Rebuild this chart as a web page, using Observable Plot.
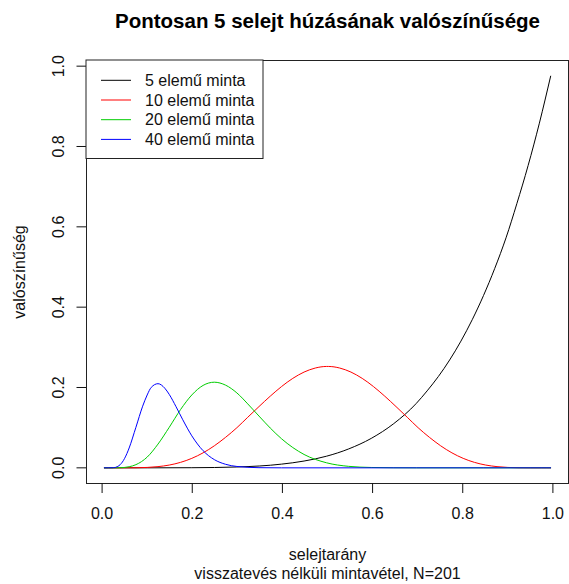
<!DOCTYPE html>
<html><head><meta charset="utf-8">
<script src="https://cdn.jsdelivr.net/npm/d3@7"></script>
<script src="https://cdn.jsdelivr.net/npm/@observablehq/plot@0.6"></script>
<style>
html,body{margin:0;padding:0;background:#fff;}
#chart{width:569px;height:584px;}
svg{font-family:"Liberation Sans",Arial,sans-serif;}
</style></head><body><div id="chart"></div>
<script>
const title = "Pontosan 5 selejt húzásának valószínűsége";
const xLabel = "selejtarány";
const subLabel = "visszatevés nélküli mintavétel, N=201";
const yLabel = "valószínűség";
const seriesNames = ["5 elemű minta", "10 elemű minta", "20 elemű minta", "40 elemű minta"];
const seriesColors = ["#000000", "#FF0000", "#00CD00", "#0000FF"];
const xTicks = [0, 0.2, 0.4, 0.6, 0.8, 1.0];
const yTicks = [0, 0.2, 0.4, 0.6, 0.8, 1.0];

// 5 elemű minta
const x5 = [0.005, 0.025, 0.100, 0.199, 0.299, 0.398, 0.448, 0.498, 0.547, 0.597, 0.647, 0.697, 0.721, 0.746, 0.771, 0.796, 0.821, 0.846, 0.871, 0.896, 0.920, 0.945, 0.970, 0.995];
const y5 = [0, 0, 0.0000, 0.0003, 0.0021, 0.0092, 0.0169, 0.0290, 0.0471, 0.0733, 0.1101, 0.1604, 0.1916, 0.2275, 0.2686, 0.3155, 0.3687, 0.4288, 0.4965, 0.5726, 0.6576, 0.7525, 0.8581, 0.9751];
// 10 elemű minta
const x10 = [0.005, 0.025, 0.050, 0.075, 0.100, 0.124, 0.149, 0.174, 0.199, 0.224, 0.249, 0.274, 0.299, 0.323, 0.348, 0.373, 0.398, 0.423, 0.448, 0.473, 0.498, 0.502, 0.527, 0.552, 0.577, 0.602, 0.627, 0.652, 0.677, 0.701, 0.726, 0.751, 0.776, 0.801, 0.826, 0.851, 0.876, 0.900, 0.925, 0.950, 0.975, 0.995];
const y10 = [0, 0, 0.0000, 0.0002, 0.0010, 0.0030, 0.0069, 0.0136, 0.0236, 0.0373, 0.0549, 0.0760, 0.0999, 0.1258, 0.1525, 0.1784, 0.2023, 0.2227, 0.2384, 0.2485, 0.2524, 0.2524, 0.2485, 0.2384, 0.2227, 0.2023, 0.1784, 0.1525, 0.1258, 0.0999, 0.0760, 0.0549, 0.0373, 0.0236, 0.0136, 0.0069, 0.0030, 0.0010, 0.0002, 0.0000, 0, 0];
// 20 elemű minta
const x20 = [0.005, 0.025, 0.040, 0.050, 0.060, 0.075, 0.100, 0.124, 0.149, 0.174, 0.199, 0.224, 0.249, 0.274, 0.299, 0.323, 0.348, 0.373, 0.398, 0.448, 0.498, 0.547, 0.597, 0.647, 0.697, 0.995];
const y20 = [0, 0, 0.0003, 0.0010, 0.0027, 0.0079, 0.0267, 0.0591, 0.1010, 0.1450, 0.1814, 0.2052, 0.2132, 0.2058, 0.1865, 0.1593, 0.1289, 0.0991, 0.0724, 0.0333, 0.0125, 0.0037, 0.0009, 0.0002, 0, 0];
// 40 elemű minta
const x40 = [0.005, 0.025, 0.030, 0.035, 0.040, 0.045, 0.050, 0.060, 0.075, 0.090, 0.100, 0.109, 0.124, 0.139, 0.149, 0.164, 0.179, 0.199, 0.224, 0.249, 0.274, 0.299, 0.348, 0.398, 0.995];
const y40 = [0, 0.0003, 0.0012, 0.0036, 0.0078, 0.0144, 0.0236, 0.0494, 0.1009, 0.1535, 0.1814, 0.2003, 0.2095, 0.1983, 0.1827, 0.1523, 0.1196, 0.0797, 0.0427, 0.0204, 0.0088, 0.0034, 0.0004, 0, 0];

const xs = [x5, x10, x20, x40];
const ys = [y5, y10, y20, y40];
const series = xs.map((xv, i) => xv.map((x, j) => ({x, y: ys[i][j], s: seriesNames[i]})));

// R-style 4% axis extension
const allX = xs.flat(), allY = ys.flat();
const [x0, x1] = d3.extent(allX), [y0, y1] = d3.extent(allY);
const xDomain = [x0 - 0.04 * (x1 - x0), x1 + 0.04 * (x1 - x0)];
const yDomain = [y0 - 0.04 * (y1 - y0), y1 + 0.04 * (y1 - y0)];

const ink = "#111";
const chart = Plot.plot({
  width: 569, height: 584,
  marginLeft: 86, marginRight: 1, marginTop: 60, marginBottom: 101,
  style: {fontFamily: '"Liberation Sans", Arial, sans-serif', fontSize: "16px", color: ink, background: "#fff"},
  x: {domain: xDomain},
  y: {domain: yDomain},
  marks: [
    ...series.map((d, i) => Plot.line(d, {x: "x", y: "y", stroke: seriesColors[i], strokeWidth: 1, curve: "monotone-x"})),
    Plot.frame({stroke: "#222", strokeWidth: 1}),
    Plot.axisX({ticks: xTicks, tickSize: 10, tickPadding: 14.5, tickFormat: d3.format(".1f"), label: null, fontSize: 16, stroke: ink, fill: ink}),
    Plot.axisY({ticks: yTicks, tickSize: 9.5, tickPadding: 13.5, tickRotate: -90, tickFormat: d3.format(".1f"), label: null, fontSize: 16, stroke: ink, fill: ink}),
    Plot.text([title], {text: d => d, frameAnchor: "top", dy: -32.5, lineAnchor: "bottom", textAnchor: "middle", fontWeight: "bold", fontSize: 20.5, fill: "#000"}),
    Plot.text([xLabel], {text: d => d, frameAnchor: "bottom", dy: 76, lineAnchor: "bottom", textAnchor: "middle", fontSize: 16, fill: ink}),
    Plot.text([subLabel], {text: d => d, frameAnchor: "bottom", dy: 95, lineAnchor: "bottom", textAnchor: "middle", fontSize: 16, fill: ink}),
    Plot.text([yLabel], {text: d => d, frameAnchor: "left", dx: -62, rotate: -90, lineAnchor: "bottom", textAnchor: "middle", fontSize: 16, fill: ink})
  ]
});
document.getElementById("chart").appendChild(chart);

// legend (R legend box, top-left)
const svg = d3.select(chart);
const lg = svg.append("g").attr("text-anchor", "start");
lg.append("rect").attr("x", 86).attr("y", 60).attr("width", 177).attr("height", 98.5)
  .attr("fill", "#fff").attr("stroke", "#222").attr("stroke-width", 1);
seriesNames.forEach((name, i) => {
  const yy = 80.3 + i * 19.7;
  lg.append("line").attr("x1", 101).attr("x2", 131).attr("y1", yy).attr("y2", yy)
    .attr("stroke", seriesColors[i]).attr("stroke-width", 1);
  lg.append("text").attr("x", 145).attr("y", yy).attr("dy", "0.35em")
    .attr("text-anchor", "start").attr("font-size", 16).attr("fill", ink).text(name);
});
</script></body></html>
